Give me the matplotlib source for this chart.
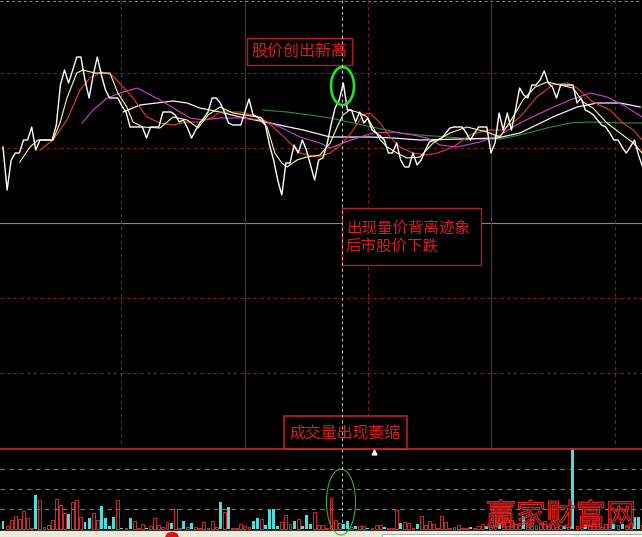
import numpy as np
import matplotlib.pyplot as plt
from matplotlib.patches import Rectangle, Ellipse, PathPatch
from matplotlib.textpath import TextPath
from matplotlib.font_manager import FontProperties
from matplotlib.transforms import Affine2D

plt.rcParams['font.family'] = ['Noto Sans CJK SC', 'DejaVu Sans']

# daily close
close = [30.1, 25.8, 28.8, 29.5, 29.5, 30.8, 30.8, 32.1, 29.8, 30.8,
         30.8, 30.8, 30.8, 32.3, 36.3, 37.8, 36.5, 37.8, 39.1, 39.1,
         36.8, 35.0, 37.3, 39.1, 37.3, 35.8, 35.0, 35.0, 35.0, 34.2,
         33.6, 32.1, 32.1, 32.1, 32.1, 31.0, 32.1, 32.1, 32.1, 33.6,
         33.6, 33.6, 33.3, 32.6, 32.8, 32.0, 31.0, 31.8, 32.5, 33.0,
         33.6, 35.0, 35.0, 34.5, 33.6, 32.5, 32.3, 32.3, 32.3, 33.6,
         34.9, 33.3, 33.1, 33.0, 32.3, 30.3, 28.8, 26.8, 25.3, 28.5,
         28.5, 30.3, 29.5, 30.8, 29.8, 28.3, 26.8, 28.8, 29.0, 30.3,
         32.3, 34.0, 34.8, 36.5, 33.8, 33.8, 32.6, 33.6, 32.5, 33.0,
         31.8, 31.5, 31.2, 30.8, 29.5, 29.5, 30.5, 28.8, 28.1, 28.1,
         29.5, 28.3, 28.8, 29.8, 30.6, 30.8, 30.8, 31.0, 31.5, 32.0,
         32.1, 32.1, 32.1, 31.5, 30.8, 31.5, 32.1, 32.1, 32.1, 29.5,
         30.5, 33.5, 31.8, 33.5, 31.8, 33.8, 36.0, 35.3, 35.0, 36.3,
         36.3, 36.8, 37.7, 36.5, 36.1, 35.0, 36.3, 36.3, 36.3, 36.3,
         34.5, 35.0, 33.8, 33.6, 33.3, 32.8, 32.3, 32.1, 31.5, 30.8,
         30.8, 30.1, 29.5, 30.1, 30.8, 29.3, 28.1]

# moving averages (day, value) read at a few points each
ma5_day = [4.1, 6.6, 8.5, 12.2, 13.9, 15.6, 18.0, 19.5, 22.4, 26.1, 28.0, 30.2,
           31.7, 34.1, 38.3, 41.5, 44.9, 47.6, 50.0, 52.9, 56.1, 62.0, 64.4,
           66.3, 68.0, 69.3, 71.7, 74.1, 77.3, 79.8, 81.5, 82.9, 84.6, 87.1,
           88.8, 90.2, 92.0, 93.7, 96.1, 98.5, 101.7, 104.9, 109.0, 113.2,
           118.0, 121.2, 124.4, 126.8, 129.8, 132.7, 135.9, 139.0, 141.5,
           143.9, 147.3, 150.5, 153.7, 155.9]
ma5 = [28.6, 30.1, 30.8, 30.8, 32.5, 35.0, 37.5, 37.8, 37.5, 37.5, 35.5, 34.1,
       32.6, 32.1, 32.0, 33.1, 32.8, 32.0, 33.3, 34.1, 33.5, 33.1, 32.1,
       29.5, 28.5, 28.1, 28.8, 29.1, 29.3, 30.5, 32.1, 33.3, 33.8, 33.5,
       33.1, 32.1, 30.8, 30.1, 29.5, 29.0, 29.1, 30.5, 31.5, 32.1,
       31.6, 31.1, 33.1, 34.8, 36.1, 36.6, 36.3, 36.0, 34.6,
       34.0, 32.5, 31.5, 30.5, 29.5]

ma10_day = [9.0, 12.2, 15.6, 18.8, 21.2, 24.1, 26.6, 29.3, 31.7, 35.1, 38.3,
            41.5, 44.9, 48.0, 51.2, 52.9, 57.8, 62.7, 65.9, 69.3, 72.4, 76.6,
            79.8, 82.9, 85.4, 87.8, 89.5, 92.0, 94.4, 96.8, 100.0, 103.4,
            105.9, 109.8, 113.9, 118.0, 122.0, 126.1, 130.2, 134.1, 137.6,
            140.0, 143.9, 148.0, 151.2, 153.7, 155.9]
ma10 = [29.8, 30.8, 32.8, 35.8, 37.0, 37.6, 37.3, 36.1, 35.0, 33.1, 32.5,
        32.3, 32.6, 32.6, 33.1, 33.6, 33.6, 33.1, 32.1, 30.8, 29.5, 29.1,
        29.5, 30.5, 31.8, 33.3, 33.5, 32.5, 31.1, 30.1, 29.5, 29.3,
        29.5, 30.1, 31.3, 31.8, 31.8, 33.1, 35.1, 36.3, 36.5,
        36.0, 34.6, 33.8, 32.5, 31.8, 30.8]

ma20_day = [19.3, 22.0, 25.4, 29.3, 32.7, 35.1, 38.3, 42.4, 45.6, 48.8, 52.9,
            57.8, 63.4, 67.6, 72.4, 77.3, 79.8, 82.9, 87.1, 90.2, 95.1, 100.0,
            103.4, 106.6, 110.7, 116.3, 121.2, 126.1, 132.7, 138.3, 143.2,
            147.3, 151.2, 155.9]
ma20 = [32.5, 33.8, 35.0, 35.6, 36.0, 35.5, 34.8, 33.8, 33.0, 32.8, 33.0,
        33.0, 32.8, 32.1, 31.1, 30.5, 30.0, 30.5, 31.1, 31.5, 31.6, 31.3,
        31.0, 30.3, 30.1, 30.6, 31.3, 32.5, 33.8, 34.8, 35.5,
        35.1, 34.3, 33.1]

ma30_day = [29.3, 33.4, 41.5, 44.9, 48.0, 52.9, 57.8, 65.1, 73.2, 79.8, 89.5,
            95.1, 101.7, 112.2, 120.5, 126.1, 134.1, 140.0, 144.9, 150.5, 155.4]
ma30 = [33.6, 34.3, 34.7, 34.5, 34.0, 33.6, 33.1, 32.5, 31.8, 31.1, 31.1,
        31.0, 30.8, 30.9, 31.0, 31.5, 33.1, 34.1, 34.5, 34.5, 34.1]

ma60_day = [63.4, 69.3, 74.9, 79.8, 85.4, 91.2, 96.8, 101.7, 108.3, 114.6,
            121.2, 126.1, 132.7, 138.3, 142.4, 152.2, 155.9]
ma60 = [33.8, 33.6, 33.3, 33.0, 32.5, 32.0, 31.5, 31.3, 31.1, 30.9,
        30.9, 31.3, 32.0, 32.5, 32.6, 32.5, 32.5]

# volume per day and whether the day closed up (1) or down (0)
volume = [8, 3, 9, 13, 10, 18, 11, 1, 34, 29,
          2, 4, 9, 30, 24, 16, 15, 27, 29, 12,
          7, 11, 16, 9, 23, 11, 3, 12, 29, 1,
          0.5, 11, 8, 1, 5, 1, 3, 11, 4, 2,
          7, 6, 20, 0.5, 8, 2, 6, 2, 1, 7,
          1, 8, 2, 27, 17, 22, 1, 1, 5, 3,
          2, 8, 11, 10, 4, 19, 20, 3, 7, 14,
          5, 8, 10, 3, 14, 5, 17, 4, 4, 1,
          31, 9, 6, 5, 8, 2, 3, 3, 3, 0.5,
          1, 4, 4, 2, 0.5, 0.5, 19, 6, 7, 6,
          1, 5, 13, 4, 8, 5, 1, 13, 7, 1,
          2, 4, 0.5, 0.5, 2, 1, 3, 5, 3, 2,
          4, 6, 7, 3, 9, 5, 4, 13, 6, 10,
          4, 6, 8, 3, 5, 2, 4, 3, 2, 95,
          3, 2, 5, 4, 6, 3, 2, 5, 10, 5,
          4, 5, 3, 6, 12, 12, 4]
up_day = [0, 1, 1, 1, 1, 1, 1, 1, 0, 1,
          1, 1, 1, 1, 1, 1, 0, 1, 1, 1,
          0, 0, 1, 1, 0, 0, 0, 0, 1, 0,
          1, 0, 1, 1, 1, 0, 1, 1, 1, 1,
          1, 0, 1, 1, 0, 1, 0, 1, 1, 1,
          1, 1, 1, 0, 1, 0, 1, 1, 1, 1,
          1, 0, 0, 1, 0, 0, 0, 0, 1, 1,
          1, 0, 1, 0, 0, 0, 1, 1, 1, 1,
          1, 1, 1, 0, 0, 1, 0, 1, 1, 0,
          1, 1, 1, 0, 1, 1, 1, 0, 1, 1,
          1, 0, 1, 1, 1, 1, 1, 1, 1, 1,
          1, 1, 1, 1, 0, 1, 1, 1, 0, 1,
          1, 0, 1, 1, 1, 1, 1, 0, 1, 1,
          1, 1, 1, 1, 1, 1, 1, 0, 1, 0,
          1, 1, 0, 1, 1, 1, 1, 1, 1, 0,
          1, 0, 1, 1, 0, 0, 1]

W, H = 642, 537
XLIM = (-0.73, 155.85)
RED_GRID = '#8c1c1c'

fig = plt.figure(figsize=(W / 100, H / 100), dpi=100, facecolor='black')

# background layer, pixel coordinates
bg = fig.add_axes([0, 0, 1, 1], zorder=0)
bg.set_xlim(0, W)
bg.set_ylim(H, 0)
bg.axis('off')

bg.plot([0, W], [1, 1], color='#909090', lw=0.7, ls=(0, (3, 3)))
for y in [73, 148, 298, 373]:
    bg.plot([0, W], [y, y], color=RED_GRID, lw=0.8, ls=(0, (3, 3)))
bg.plot([0, W], [223, 223], color='#8a8a8a', lw=0.8)
for x, style in [(121, (0, (3, 3))), (245, '-'), (368, (0, (3, 3))),
                 (491, '-'), (615, (0, (3, 3)))]:
    bg.plot([x, x], [0, 447], color=RED_GRID, lw=0.8, ls=style)
for y in [469, 489, 509]:
    bg.plot([0, W], [y, y], color='#7a7a7a', lw=0.8, ls=(0, (4, 4)))
bg.add_patch(Rectangle((0, 531), W, 6, color='#ece9d8', zorder=3))
bg.add_patch(Rectangle((382, 534), 260, 4, facecolor='#ffffff',
                       edgecolor='#a0a0a0', lw=0.6, zorder=3))
bg.add_patch(Ellipse((172, 537), 12, 9, color='#e01010', zorder=4))

# price panel
ax = fig.add_axes([0, 89 / H, 1, 448 / H], zorder=1)
ax.set_facecolor('none')
ax.set_xlim(*XLIM)
ax.set_ylim(0, 44.8)
ax.axis('off')

ax.plot(ma60_day, ma60, color='#2f8f2f', lw=0.8)
ax.plot(ma30_day, ma30, color='#f4f4f4', lw=0.9)
ax.plot(ma20_day, ma20, color='#d040d0', lw=0.8)
ax.plot(ma10_day, ma10, color='#e0402a', lw=0.8)
ax.plot(ma5_day, ma5, color='#ffff9a', lw=0.8)
ax.plot(np.arange(len(close)), close, color='white', lw=1.0)

# volume panel
axv = fig.add_axes([0, 6 / H, 1, 83 / H], zorder=1)
axv.set_facecolor('none')
axv.set_xlim(*XLIM)
axv.set_ylim(-2.5, 80.5)
axv.axis('off')

vol = np.array(volume, dtype=float)
up = np.array(up_day, dtype=bool)
days = np.arange(len(vol))
axv.bar(days[up], vol[up], width=0.7, facecolor='none',
        edgecolor='#d42a2a', lw=0.7)
axv.bar(days[~up], vol[~up], width=0.7, color='#4cdcdc', lw=0)

# annotations layer, pixel coordinates
ov = fig.add_axes([0, 0, 1, 1], zorder=2)
ov.set_facecolor('none')
ov.set_xlim(0, W)
ov.set_ylim(H, 0)
ov.axis('off')

ov.plot([342, 342], [0, 531], color='#c8c8c8', lw=0.7, ls=(0, (3, 3)))
ov.plot([0, W], [448.5, 448.5], color='#c82020', lw=1.3)

TXT = '#d42020'
ov.add_patch(Rectangle((247, 38), 105, 27, facecolor='black',
                       edgecolor='#b81c1c', lw=1.0))
ov.text(299.5, 51.5, '股价创出新高', color=TXT, fontsize=11.5,
        ha='center', va='center')

ov.add_patch(Rectangle((342, 208), 139, 57, facecolor='black',
                       edgecolor='#b81c1c', lw=1.0))
ov.text(346, 228, '出现量价背离迹象', color=TXT, fontsize=11.2,
        ha='left', va='center')
ov.text(346, 247, '后市股价下跌', color=TXT, fontsize=11.2,
        ha='left', va='center')

ov.add_patch(Rectangle((284, 416), 123, 33, facecolor='black',
                       edgecolor='#c01c1c', lw=1.2))
ov.text(345.5, 434, '成交量出现萎缩', color=TXT, fontsize=11.4,
        ha='center', va='center')
ov.plot(374, 451.5, marker='^', color='white', ms=3.5)

ov.add_patch(Ellipse((342.5, 86), 23, 38, fill=False,
                     edgecolor='#22e022', lw=1.9))
ov.add_patch(Ellipse((341, 502), 29, 66, fill=False,
                     edgecolor='#33b033', lw=0.8))

# watermark
fp = FontProperties(family='Noto Sans CJK SC')
tp = TextPath((0, 0), '赢家财富网', size=30, prop=fp)
tp = Affine2D().scale(1, -1).translate(486, 525).transform_path(tp)
ov.add_patch(PathPatch(tp, facecolor=(0.85, 0.1, 0.1, 0.25),
                       edgecolor='#e02424', lw=0.8))

fig.savefig('out.png', dpi=100, facecolor='black')
